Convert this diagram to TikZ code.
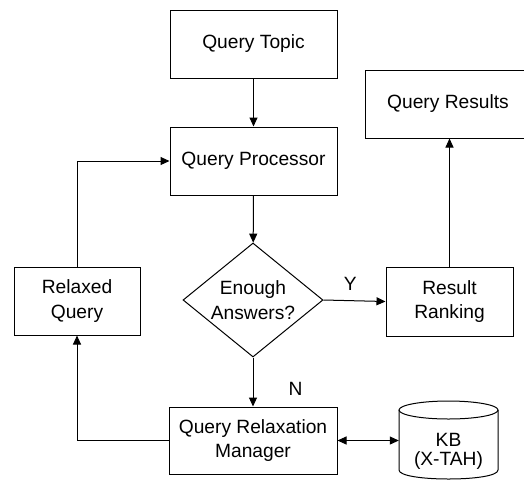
\documentclass[tikz,border=0pt]{standalone}
\usepackage{fontspec}
\setmainfont{Liberation Sans}
\usetikzlibrary{shapes.geometric,arrows.meta}

\begin{document}
\begin{tikzpicture}[x=1pt,y=-1pt,
  every node/.style={font=\fontsize{19.2}{24.5}\selectfont},
  box/.style={draw=black, line width=1pt, rectangle, align=center,
    inner sep=0pt, minimum width=#1, minimum height=68pt},
  box/.default=167pt,
  decision/.style={draw=black, line width=1pt, diamond, aspect=1.23,
    minimum width=140pt, minimum height=114pt, inner sep=0pt, align=center},
  link/.style={line width=1pt, -{Triangle[length=9pt,width=8pt]}},
  duplex/.style={line width=1pt, {Triangle[length=9pt,width=8pt]}-{Triangle[length=9pt,width=8pt]}},
  tag/.style={inner sep=0pt}]

\useasboundingbox (0,0) rectangle (524,480);
\clip (0,0) rectangle (524,480);

% main column
\node[box] (topic) at (253.5,44) {Query Topic};
\node[box] (proc) at (253.5,161) {Query Processor};
\node[decision] (dec) at (253,300) {Enough\\Answers?};
\node[box=168pt, minimum height=67pt] (qrm) at (253,440.5) {Query Relaxation\\Manager};

% right column
\node[box=166pt] (results) at (448,104) {Query Results};
\node[box=127pt, minimum height=69pt] (rank) at (449.5,301.5) {Result\\Ranking};

% left column
\node[box=126pt] (relaxed) at (77,301) {Relaxed\\Query};

% knowledge base drawn as a cylinder
\draw[line width=1pt] (448.5,410) ellipse [x radius=49.5, y radius=9];
\draw[line width=1pt] (399,410) -- (399,470)
  .. controls (399,482) and (498,482) .. (498,470) -- (498,410);
\node[tag, minimum width=99pt, align=center,
  font=\fontsize{19.2}{19.5}\selectfont] (kb) at (448.5,451.5) {KB\\(X-TAH)};

% connectors
\draw[link] (topic) -- (proc);
\draw[link] (proc) -- (dec);
\draw[link] (dec.east) -- (rank.west)
  node[tag, pos=0.43, above=10pt] {Y};
\draw[link] (rank.north) -- (rank.north |- results.south);
\draw[link] (dec.south) -- (qrm.north)
  node[tag, pos=0.64, right=35pt] {N};
\draw[link] (qrm.west) -| (relaxed.south);
\draw[link] (relaxed.north) |- (proc.west);
\draw[duplex] (qrm.east) -- (qrm.east -| kb.west);

\end{tikzpicture}
\end{document}
